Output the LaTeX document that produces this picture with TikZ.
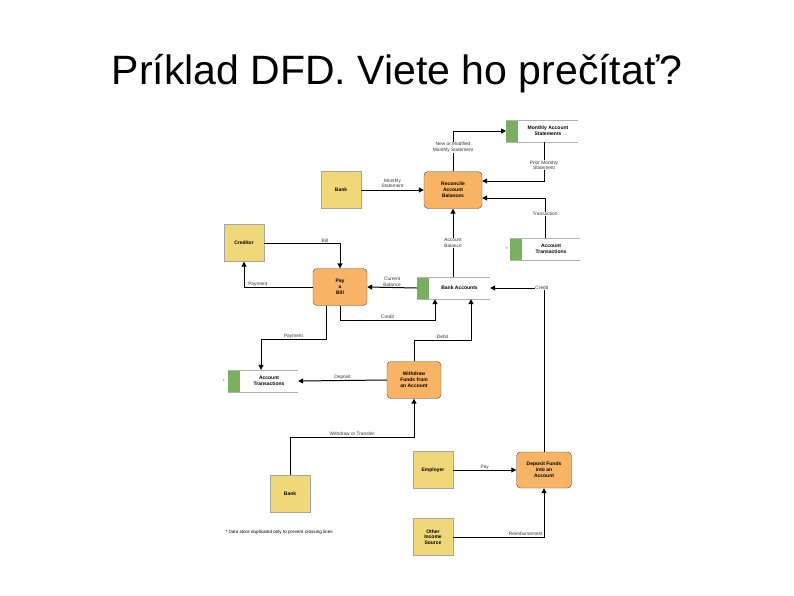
\documentclass[tikz,border=0pt]{standalone}
\usepackage{fontspec}
\setmainfont{Liberation Sans}
\usetikzlibrary{arrows.meta}
\definecolor{ext}{HTML}{F0D878}
\definecolor{proc}{HTML}{F8B464}
\definecolor{grn}{HTML}{78B060}
\begin{document}
\begin{tikzpicture}[x=1pt,y=-1pt,
  extbox/.style={draw=gray!70,fill=ext,minimum width=40pt,minimum height=37pt,font=\fontsize{5}{5.5}\selectfont\bfseries,align=center},
  procbox/.style={draw=black!70,fill=proc,rounded corners=4pt,minimum width=56pt,minimum height=37pt,font=\fontsize{5}{6}\selectfont\bfseries,align=center},
  storebox/.style={minimum height=22pt,font=\fontsize{5}{6}\selectfont\bfseries,align=center,inner sep=0pt},
  lbl/.style={font=\fontsize{4.8}{5.5}\selectfont,align=center,inner sep=0.5pt,fill=white,text=black!80},
  flow/.style={-{Triangle[length=5pt,width=5pt]},line width=1pt}]
\useasboundingbox (0,0) rectangle (794,595);
\node[font=\fontsize{41}{46}\selectfont] (title) at (397,74) {Príklad DFD. Viete ho prečítať?};
% stores
\newcommand{\dstore}[5]{% name, x1, x2, ycenter, text
  \fill[grn] (#2,#4-11) rectangle (#2+12,#4+11);
  \draw[gray!60,line width=0.6pt] (#2,#4-11) -- (#3,#4-11) (#2,#4+11) -- (#3,#4+11);
  \node[storebox,minimum width=#3-#2-12] (#1) at ({(#2+12+#3)/2},#4) {#5};
  \coordinate (#1L) at (#2,#4);}
\dstore{mas}{506}{578}{131}{Monthly Account\\Statements}
\dstore{atr}{510}{580}{249}{Account\\Transactions}
\dstore{ba}{417}{490}{288}{Bank Accounts}
\dstore{atl}{228}{298}{381}{Account\\Transactions}
\node[font=\fontsize{4}{5}\selectfont] (s1) at (507,249) {*};
\node[font=\fontsize{4}{5}\selectfont] (s2) at (224,381) {*};
% processes
\node[procbox,minimum width=58pt] (rec) at (453,190) {Reconcile\\Account\\Balances};
\node[procbox,minimum width=54pt] (pay) at (340,287) {Pay\\a\\Bill};
\node[procbox,minimum width=54pt] (wd) at (414,380) {Withdraw\\Funds from\\an Account};
\node[procbox,minimum width=55pt,minimum height=36pt] (dep) at (544,470) {Deposit Funds\\into an\\Account};
% externals
\node[extbox] (bank1) at (341,190) {Bank};
\node[extbox] (cred) at (244,243) {Creditor};
\node[extbox] (bank2) at (290,494) {Bank};
\node[extbox] (emp) at (433,470) {Employer};
\node[extbox] (oth) at (433,537) {Other\\Income\\Source};
% flows
\draw[flow] (rec.north) |- (masL) node[lbl,pos=0.3] {New or Modified\\Monthly Statement};
\draw[flow] (mas.south -| 544,0) |- (rec.east |- 0,181) node[lbl,pos=0.3] {Prior Monthly\\Statement};
\draw[flow] (bank1) -- (rec) node[lbl,midway,above=1pt,fill=none] {Monthly\\Statement};
\draw[flow] (atr.north -| 545,0) |- (rec.east |- 0,198) node[lbl,pos=0.3] {Transaction};
\draw[flow] (ba.north -| rec) -- (rec.south) node[lbl,midway] {Account\\Balance};
\draw[flow] (cred.east) -| (pay.north) node[lbl,pos=0.4,above,fill=none] {Bill};
\draw[flow] (pay.west) -| (cred.south) node[lbl,pos=0.4,above,fill=none] {Payment};
\draw[flow] (baL) -- (pay.east) node[lbl,midway,above,fill=none] {Current\\Balance};
\draw[flow] (pay.south) -- (340,320) -| (ba.south -| 435,0) node[lbl,pos=0.25,above,fill=none] {Credit};
\draw[flow] (wd.north) |- (471,340) node[lbl,pos=0.75,above,fill=none] {Debit} -- (ba.south -| 471,0);
\draw[flow] (dep.north) |- (ba.east) node[lbl,pos=0.52] {Credit};
\draw[flow] (pay.south -| 326,0) |- (261,339) node[lbl,pos=0.75,above,fill=none] {Payment} -- (atl.north -| 261,0);
\draw[flow] (wd.west) -- (atl.east) node[lbl,midway,above,fill=none] {Deposit};
\draw[flow] (bank2.north) |- (414,437) node[lbl,pos=0.75,above,fill=none] {Withdraw or Transfer} -- (wd.south);
\draw[flow] (emp) -- (dep) node[lbl,midway,above,fill=none] {Pay};
\draw[flow] (oth.east) -| (dep.south) node[lbl,pos=0.4,above,fill=none] {Reimbursement};
\node[font=\fontsize{4.6}{5}\selectfont,anchor=west] (foot) at (222,532) {* Data store duplicated only to prevent crossing lines};
\end{tikzpicture}
\end{document}
